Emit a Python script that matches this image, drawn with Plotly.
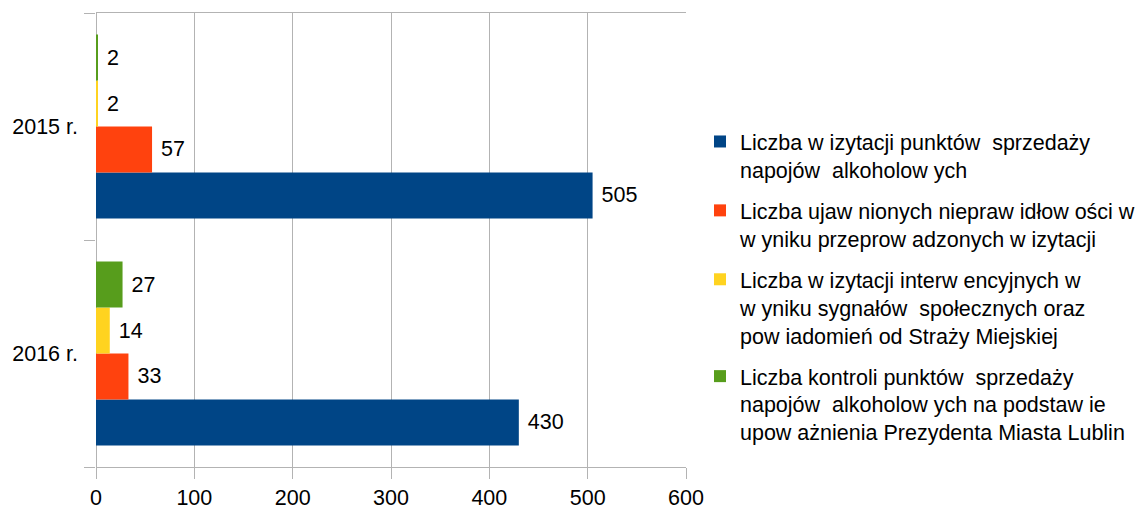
import plotly.graph_objects as go

# categories (bottom to top, so 2015 sits on top like the reference)
years = ["2016 r.", "2015 r."]

# series values, same order as years
wizytacje = [430, 505]
nieprawidlowosci = [33, 57]
interwencyjne = [14, 2]
kontrole = [27, 2]

series_names = [
    "Liczba w izytacji punktów  sprzedaży<br>napojów  alkoholow ych",
    "Liczba ujaw nionych niepraw idłow ości w<br>w yniku przeprow adzonych w izytacji",
    "Liczba w izytacji interw encyjnych w<br>w yniku sygnałów  społecznych oraz<br>pow iadomień od Straży Miejskiej",
    "Liczba kontroli punktów  sprzedaży<br>napojów  alkoholow ych na podstaw ie<br>upow ażnienia Prezydenta Miasta Lublin",
]
series_values = [wizytacje, nieprawidlowosci, interwencyjne, kontrole]
colors = ["#004586", "#ff420e", "#ffd320", "#579d1c"]

x_ticks = [0, 100, 200, 300, 400, 500, 600]

FONT = "Liberation Sans, Arial, sans-serif"
FS = 21.5
GRID = "#b3b3b3"

fig = go.Figure()
for i, (name, vals, col) in enumerate(zip(series_names, series_values, colors)):
    fig.add_trace(
        go.Bar(
            y=years,
            x=vals,
            name=name,
            legendgroup=str(i),
            orientation="h",
            marker=dict(color=col, line=dict(width=0)),
            text=vals,
            texttemplate=" %{x}",
            textposition="outside",
            textfont=dict(size=FS, color="black", family=FONT),
            cliponaxis=False,
        )
    )

fig.update_layout(
    width=1136,
    height=511,
    barmode="group",
    bargap=0.19,
    bargroupgap=0,
    plot_bgcolor="white",
    paper_bgcolor="white",
    font=dict(family=FONT, size=FS, color="black"),
    margin=dict(l=96, r=450, t=13, b=44),
    showlegend=True,
    # legend placed in container pixels so its width does not squeeze the plot
    legend=dict(
        xref="container",
        yref="container",
        x=700 / 1136,
        xanchor="left",
        y=1 - 121 / 511,
        yanchor="top",
        valign="top",
        traceorder="grouped",
        font=dict(size=FS, family=FONT),
        tracegroupgap=10,
        maxheight=600,
    ),
    xaxis=dict(
        range=[0, 600],
        tickvals=x_ticks,
        automargin=False,
        showgrid=True,
        gridcolor=GRID,
        gridwidth=1,
        zeroline=True,
        zerolinecolor=GRID,
        zerolinewidth=1,
        showline=True,
        linecolor=GRID,
        linewidth=1,
        mirror=True,
        ticks="outside",
        ticklen=11,
        tickcolor=GRID,
        tickfont=dict(size=FS),
    ),
    yaxis=dict(
        type="category",
        categoryorder="array",
        categoryarray=years,
        automargin=False,
        showgrid=False,
        zeroline=False,
        showline=False,
        ticks="outside",
        tickson="boundaries",
        ticklen=11,
        tickcolor=GRID,
        tickfont=dict(size=FS),
        ticklabelstandoff=17,
    ),
)

# drop the default 8px body margin so the fixed-size figure fills the window
fig.write_html(
    "out.html",
    config={"displayModeBar": False},
    post_script="document.body.style.margin = '0';",
)
